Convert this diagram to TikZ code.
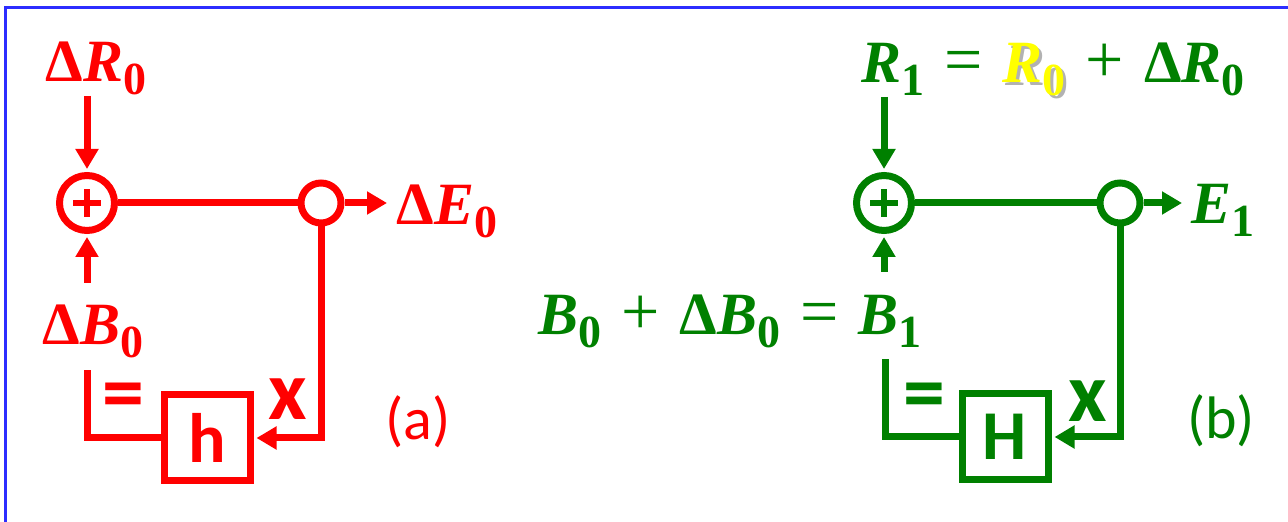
\documentclass[tikz,border=0pt]{standalone}
\usepackage{fontspec}
\newfontfamily\eqfont{Liberation Serif}
\newfontfamily\carlito{Carlito}
\usetikzlibrary{positioning,arrows.meta}
\definecolor{fbred}{RGB}{255,0,0}
\definecolor{fbgreen}{RGB}{0,128,0}
\definecolor{frameblue}{RGB}{45,45,255}
\definecolor{hiyellow}{RGB}{255,255,0}
\newcommand{\sub}[1]{\raisebox{-6.5pt}{\fontsize{23}{24}\selectfont\upshape\bfseries #1}}
\newcommand{\op}[1]{\hspace{10pt}{\fontsize{34}{36}\selectfont\upshape\mdseries #1}\hspace{10pt}}
\newcommand{\dlt}{{\upshape Δ}}
\newcommand{\glow}[1]{\rlap{\kern1.2pt\raisebox{-1.2pt}{\color{black!30}#1}}{\color{hiyellow}#1}}

\begin{document}
\begin{tikzpicture}[x=0.5pt,y=-0.5pt,
  line width=3.5pt,
  every node/.style={inner sep=0pt},
  eq/.style={font=\eqfont\bfseries\itshape\fontsize{30}{36}\selectfont},
  sumnode/.style={circle, draw, minimum size=27.5pt,
    path picture={\draw[line width=2.8pt]
      ([xshift=-7pt]path picture bounding box.center) -- ([xshift=7pt]path picture bounding box.center)
      ([yshift=-7pt]path picture bounding box.center) -- ([yshift=7pt]path picture bounding box.center);}},
  junc/.style={circle, draw, minimum size=20pt},
  blk/.style={draw, minimum size=43pt, font=\carlito\bfseries\fontsize{35}{40}\selectfont},
  tag/.style={font=\carlito\bfseries\fontsize{42}{44}\selectfont},
  eqtag/.style={tag, anchor=base, text height=0.45em, text depth=0pt},
  panelcap/.style={font=\carlito\fontsize{30}{36}\selectfont},
  arr/.style={-{Triangle[length=10pt,width=11pt]}, shorten >=1.5pt}
]
  \useasboundingbox (0,0) rectangle (1288,522);
  % frame
  \draw[frameblue, line width=1.5pt] (5,522) -- (5,8) -- (1288,8);

  % (a) deviations
  \begin{scope}[fbred]
    \node[eq, anchor=base] (rA) at (96,82) {\dlt R\sub{0}};
    \node[sumnode] (sumA) at (87,203) {};
    \node[junc] (juncA) at (321,203) {};
    \node[eq, anchor=base west] (eA) at (393,225) {\dlt E\sub{0}};
    \node[eq, anchor=base] (bA) at (93,345) {\dlt B\sub{0}};
    \node[blk] (hA) at (207,438) {h};
    \coordinate (rAin) at (87,96);
    \coordinate (bAin) at (87,283);
    \coordinate (bAout) at (87,370);
    \node[eqtag] (eqA) at (123,421) {=};
    \node[tag] (xA) at (288,399) {x};
    \node[panelcap] (capA) at (418,422) {(a)};

    \draw[arr] (rAin) -- (sumA);
    \draw[arr] (bAin) -- (sumA);
    \draw (sumA) -- (juncA);
    \draw[arr, shorten >=3pt] (juncA) -- (juncA -| eA.west);
    \draw[arr] (juncA) |- (hA);
    \draw (hA) -| (bAout);
  \end{scope}

  % (b) updated values
  \begin{scope}[fbgreen]
    \node[eq, anchor=base west] (rB) at (858,83)
      {R\sub{1}\op{=}\glow{R\sub{0}}\op{+}\dlt R\sub{0}};
    \node[sumnode] (sumB) at (884,203) {};
    \node[junc] (juncB) at (1120,203) {};
    \node[eq, anchor=base west] (eB) at (1188,224) {E\sub{1}};
    \node[eq, anchor=base] (bB) at (730,335)
      {B\sub{0}\op{+}\dlt B\sub{0}\op{=}B\sub{1}};
    \node[blk] (hB) at (1005,437) {H};
    \coordinate (rBin) at (884,97);
    \coordinate (bBin) at (884,272);
    \coordinate (bBout) at (885,359);
    \node[eqtag] (eqB) at (924,421) {=};
    \node[tag] (xB) at (1088,401) {x};
    \node[panelcap] (capB) at (1221,421) {(b)};

    \draw[arr] (rBin) -- (sumB);
    \draw[arr] (bBin) -- (sumB);
    \draw (sumB) -- (juncB);
    \draw[arr, shorten >=3pt] (juncB) -- (juncB -| eB.west);
    \draw[arr] (juncB) |- (hB);
    \draw (hB) -| (bBout);
  \end{scope}
\end{tikzpicture}
\end{document}
